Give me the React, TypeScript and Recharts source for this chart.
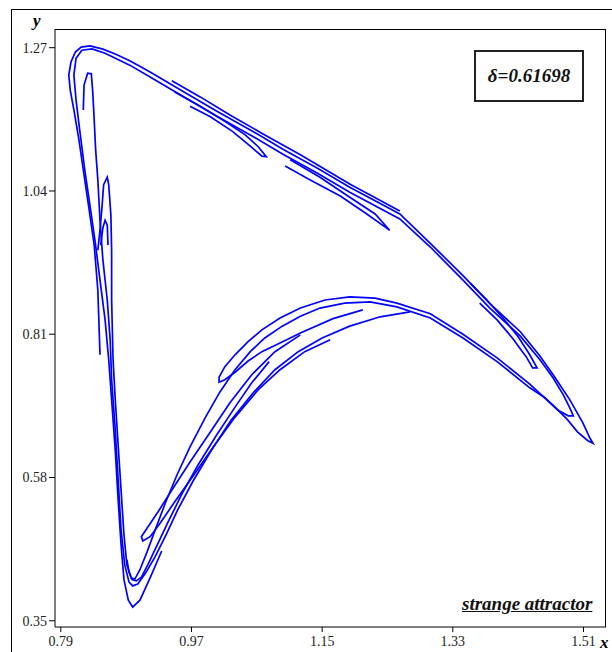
import React from "react";
import { LineChart, Line, XAxis, YAxis } from "recharts";

type Pt = [number, number];

const xTicks = [0.79, 0.97, 1.15, 1.33, 1.51];
const yTicks = [0.35, 0.58, 0.81, 1.04, 1.27];
const deltaLabel = "δ=0.61698";
const cornerLabel = "strange attractor";

// outermost loop: left side up, upper band, right tip, arch, fold near 1.0
const outerLoop: Pt[] = [
  [0.844, 0.777], [0.841, 0.881], [0.836, 0.953], [0.829, 1.01], [0.822, 1.066],
  [0.815, 1.122], [0.808, 1.17], [0.803, 1.202], [0.801, 1.226], [0.804, 1.247],
  [0.81, 1.263], [0.818, 1.271], [0.83, 1.273], [0.847, 1.268], [0.865, 1.26],
  [0.885, 1.249], [0.913, 1.231], [0.958, 1.2], [1.005, 1.168], [1.051, 1.138],
  [1.096, 1.107], [1.143, 1.077], [1.188, 1.046], [1.257, 1.003], [1.299, 0.956],
  [1.344, 0.904], [1.381, 0.859], [1.423, 0.814], [1.45, 0.775], [1.471, 0.74],
  [1.491, 0.705], [1.509, 0.668], [1.519, 0.643], [1.523, 0.635], [1.516, 0.639],
  [1.502, 0.653], [1.487, 0.674], [1.473, 0.69], [1.436, 0.73], [1.391, 0.772],
  [1.344, 0.81], [1.299, 0.843], [1.253, 0.86], [1.223, 0.868], [1.188, 0.87],
  [1.154, 0.865], [1.12, 0.852], [1.092, 0.836], [1.067, 0.817], [1.048, 0.798],
  [1.03, 0.777], [1.016, 0.758], [1.008, 0.741], [1.008, 0.733], [1.016, 0.737],
  [1.03, 0.749], [1.048, 0.767], [1.067, 0.782], [1.092, 0.796], [1.12, 0.812],
  [1.165, 0.835], [1.206, 0.849],
];

// second loop: deepest bottom, left side, upper band, inner tip, arch, spike
const secondLoop: Pt[] = [
  [0.929, 0.462], [0.913, 0.419], [0.899, 0.383], [0.889, 0.372], [0.883, 0.383],
  [0.877, 0.416], [0.873, 0.472], [0.869, 0.544], [0.865, 0.624], [0.86, 0.705],
  [0.856, 0.769], [0.851, 0.833], [0.844, 0.897], [0.837, 0.961], [0.83, 1.018],
  [0.823, 1.074], [0.816, 1.138], [0.811, 1.186], [0.808, 1.226], [0.811, 1.253],
  [0.819, 1.266], [0.833, 1.268], [0.851, 1.261], [0.885, 1.242], [0.913, 1.223],
  [0.958, 1.192], [1.005, 1.16], [1.051, 1.13], [1.096, 1.099], [1.143, 1.069],
  [1.188, 1.038], [1.257, 0.995], [1.299, 0.95], [1.344, 0.897], [1.381, 0.852],
  [1.423, 0.807], [1.45, 0.769], [1.468, 0.74], [1.482, 0.713], [1.491, 0.692],
  [1.496, 0.679], [1.489, 0.679], [1.475, 0.688], [1.457, 0.708], [1.436, 0.724],
  [1.391, 0.766], [1.344, 0.804], [1.299, 0.836], [1.253, 0.854], [1.216, 0.862],
  [1.181, 0.86], [1.147, 0.852], [1.12, 0.839], [1.095, 0.823], [1.071, 0.804],
  [1.051, 0.782], [1.03, 0.753], [1.009, 0.717], [0.989, 0.676], [0.968, 0.629],
  [0.95, 0.584], [0.934, 0.539], [0.92, 0.496], [0.909, 0.461], [0.899, 0.432],
  [0.892, 0.417], [0.887, 0.419], [0.881, 0.44], [0.877, 0.488], [0.873, 0.56],
  [0.869, 0.632], [0.865, 0.705], [0.862, 0.769], [0.86, 0.865], [0.86, 0.945],
  [0.859, 1.001], [0.856, 1.05], [0.854, 1.062], [0.849, 1.05], [0.847, 1.018],
  [0.844, 0.977], [0.841, 0.945],
];

// inner hairpin at top left running down to the third bottom and up the arch
const innerHairpin: Pt[] = [
  [0.821, 1.17], [0.822, 1.21], [0.827, 1.229], [0.832, 1.228], [0.834, 1.199],
  [0.836, 1.154], [0.838, 1.106], [0.841, 1.058], [0.844, 0.993], [0.848, 0.929],
  [0.854, 0.865], [0.858, 0.801], [0.86, 0.737], [0.865, 0.656], [0.869, 0.576],
  [0.873, 0.496], [0.878, 0.44], [0.884, 0.412], [0.889, 0.406], [0.896, 0.409],
  [0.907, 0.427], [0.92, 0.453], [0.935, 0.488], [0.951, 0.528], [0.972, 0.574],
  [0.997, 0.623], [1.024, 0.671], [1.055, 0.716], [1.085, 0.753], [1.117, 0.782],
  [1.15, 0.804], [1.188, 0.823], [1.23, 0.838], [1.271, 0.846],
];

// lower fold of the arch near 0.90, 0.48
const archFold: Pt[] = [
  [1.12, 0.809], [1.085, 0.782], [1.053, 0.745], [1.023, 0.7], [0.996, 0.653],
  [0.968, 0.605], [0.943, 0.56], [0.924, 0.525], [0.909, 0.499], [0.901, 0.485],
  [0.903, 0.478], [0.913, 0.485], [0.927, 0.507], [0.947, 0.541], [0.972, 0.582],
  [1.0, 0.629], [1.03, 0.677], [1.062, 0.721], [1.092, 0.753], [1.126, 0.782],
  [1.161, 0.801],
];

const archShort: Pt[] = [
  [1.077, 0.766], [1.053, 0.732], [1.03, 0.693], [1.004, 0.647], [0.979, 0.6],
  [0.957, 0.554], [0.938, 0.509], [0.922, 0.47], [0.91, 0.44], [0.901, 0.42],
  [0.894, 0.414], [0.888, 0.416], [0.884, 0.428], [0.881, 0.448],
];

// folds hanging under the upper band
const bandFoldA: Pt[] = [
  [0.947, 1.199], [0.982, 1.176], [1.016, 1.152], [1.044, 1.13], [1.062, 1.111],
  [1.073, 1.095], [1.067, 1.096], [1.051, 1.112], [1.026, 1.136], [0.996, 1.159],
  [0.968, 1.176],
];

const bandTop: Pt[] = [
  [0.943, 1.217], [0.982, 1.191], [1.023, 1.162], [1.071, 1.13], [1.12, 1.098],
  [1.188, 1.051], [1.257, 1.008],
];

const bandFoldB: Pt[] = [
  [1.106, 1.09], [1.147, 1.062], [1.188, 1.03], [1.223, 1.003], [1.243, 0.977],
  [1.237, 0.982], [1.209, 1.005], [1.175, 1.032], [1.133, 1.058], [1.099, 1.08],
];

const bandFoldC: Pt[] = [
  [1.354, 0.892], [1.377, 0.865], [1.399, 0.836], [1.42, 0.806], [1.436, 0.777],
  [1.446, 0.756], [1.44, 0.756], [1.431, 0.774], [1.412, 0.804], [1.391, 0.833],
  [1.367, 0.86],
];

const smallSpike: Pt[] = [
  [0.845, 0.953], [0.848, 0.981], [0.851, 0.993], [0.854, 0.985], [0.855, 0.953],
];

const strands = [
  outerLoop, secondLoop, innerHairpin, archFold, archShort,
  bandFoldA, bandTop, bandFoldB, bandFoldC, smallSpike,
].map((pts) => pts.map(([x, y]) => ({ x, y })));

const serif = "'Liberation Serif', 'Times New Roman', serif";
const tickStyle = { fontFamily: serif, fontSize: 14, fill: "#222" };

const App = () => {
  return (
    <div
      style={{
        position: "fixed",
        left: 0,
        top: 0,
        width: 612,
        height: 652,
        overflow: "hidden",
        background: "#fff",
      }}
    >
      <div
        style={{
          position: "absolute",
          left: 11,
          top: 9,
          width: 640,
          height: 680,
          border: "1px solid #000",
        }}
      />
      <div style={{ position: "absolute", left: 0, top: 0 }}>
        <LineChart
          width={612}
          height={652}
          margin={{ top: 29, right: 6, bottom: 0, left: 0 }}
        >
          <XAxis
            type="number"
            dataKey="x"
            domain={[0.782, 1.541]}
            ticks={xTicks}
            tickFormatter={(v: number) => v.toFixed(2)}
            allowDataOverflow
            height={25}
            tickSize={5}
            tickMargin={4}
            tick={tickStyle}
            stroke="#000"
            tickLine={{ stroke: "#000" }}
            axisLine={{ stroke: "#000" }}
          />
          <YAxis
            type="number"
            dataKey="y"
            domain={[0.34, 1.3]}
            ticks={yTicks}
            tickFormatter={(v: number) => v.toFixed(2)}
            allowDataOverflow
            width={55}
            tickSize={6}
            tickMargin={2}
            tick={tickStyle}
            stroke="#000"
            tickLine={{ stroke: "#000" }}
            axisLine={{ stroke: "#000" }}
          />
          {strands.map((d, i) => (
            <Line
              key={i}
              data={d}
              dataKey="y"
              type="linear"
              stroke="#0000ff"
              strokeWidth={1.7}
              dot={false}
              activeDot={false}
              isAnimationActive={false}
            />
          ))}
        </LineChart>
      </div>
      {/* plot frame */}
      <div
        style={{
          position: "absolute",
          left: 55,
          top: 29,
          width: 551,
          height: 598,
          borderTop: "1px solid #000",
          borderRight: "1px solid #000",
          boxSizing: "border-box",
          pointerEvents: "none",
        }}
      />
      <div
        style={{
          position: "absolute",
          left: 33,
          top: 11,
          fontFamily: serif,
          fontStyle: "italic",
          fontWeight: "bold",
          fontSize: 17,
        }}
      >
        y
      </div>
      <div
        style={{
          position: "absolute",
          left: 600,
          top: 633,
          fontFamily: serif,
          fontStyle: "italic",
          fontWeight: "bold",
          fontSize: 17,
        }}
      >
        x
      </div>
      <div
        style={{
          position: "absolute",
          left: 474,
          top: 50,
          width: 110,
          height: 52,
          boxSizing: "border-box",
          border: "2px solid #222",
          display: "flex",
          alignItems: "center",
          justifyContent: "center",
          fontFamily: serif,
          fontStyle: "italic",
          fontWeight: "bold",
          fontSize: 19,
          color: "#111",
        }}
      >
        {deltaLabel}
      </div>
      <div
        style={{
          position: "absolute",
          left: 462,
          top: 593,
          fontFamily: serif,
          fontStyle: "italic",
          fontWeight: "bold",
          fontSize: 19,
          textDecoration: "underline",
          color: "#111",
        }}
      >
        {cornerLabel}
      </div>
    </div>
  );
};

export default App;
